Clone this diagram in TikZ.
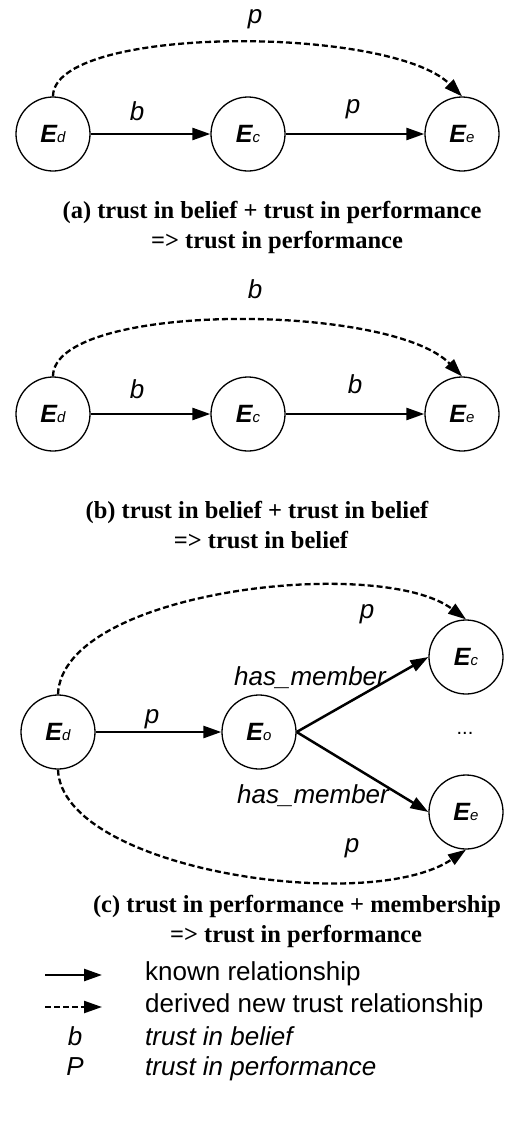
\documentclass[tikz,border=0pt]{standalone}
\usepackage{fontspec}
\setmainfont{Liberation Serif}
\newfontfamily\arial{Liberation Sans}
\usetikzlibrary{arrows.meta}
\tikzset{
  ent/.style={circle, draw, line width=1.3pt, minimum size=74pt, inner sep=0pt, font=\arial\fontsize{25}{25}\selectfont},
  known/.style={line width=2.5pt, -{Triangle[length=18pt,width=12pt]}},
  derived/.style={line width=2.3pt, dash pattern=on 6pt off 3pt, -{Triangle[length=18pt,width=12pt]}},
  elab/.style={font=\arial\itshape\fontsize{26}{26}\selectfont, inner sep=0pt, anchor=base},
  captext/.style={font=\bfseries\fontsize{24.5}{30}\selectfont, inner sep=0pt, anchor=base},
  legtext/.style={font=\arial\fontsize{26}{26}\selectfont, anchor=base west, inner sep=0pt}
}
\newcommand{\ent}[1]{{\bfseries\itshape E}{\fontsize{15}{15}\selectfont\itshape #1}}
\begin{document}
\begin{tikzpicture}[x=1pt,y=-1pt]
\path[use as bounding box] (0,0) rectangle (505,1128);

% (a)
\node[ent] (ad) at (53,134) {\ent{d}};
\node[ent] (ac) at (248,134) {\ent{c}};
\node[ent] (ae) at (462,134) {\ent{e}};
\draw[known] (ad) -- (ac);
\draw[known] (ac) -- (ae);
\draw[derived] (ad.north) .. controls (53,25) and (390,25) .. (ae.north);
\node[elab] (ab) at (137,120) {b};
\node[elab] (ap) at (353,113) {p};
\node[elab] (apt) at (255,23) {p};
\node[captext] (acap1) at (272,218) {(a) trust in belief + trust in performance};
\node[captext] (acap2) at (277,248) {=> trust in performance};

% (b)
\node[ent] (bd) at (53,414) {\ent{d}};
\node[ent] (bc) at (248,414) {\ent{c}};
\node[ent] (be) at (462,414) {\ent{e}};
\draw[known] (bd) -- (bc);
\draw[known] (bc) -- (be);
\draw[derived] (bd.north) .. controls (53,302) and (390,302) .. (be.north);
\node[elab] (bb1) at (137,398) {b};
\node[elab] (bb2) at (355,393) {b};
\node[elab] (bbt) at (255,298) {b};
\node[captext] (bcap1) at (257,518) {(b) trust in belief + trust in belief};
\node[captext] (bcap2) at (261,548) {=> trust in belief};

% (c)
\node[ent] (cd) at (58,732) {\ent{d}};
\node[ent] (co) at (259,732) {\ent{o}};
\node[ent] (cc) at (466,657) {\ent{c}};
\node[ent] (ce) at (466,812) {\ent{e}};
\node[font=\arial\fontsize{20}{20}\selectfont, inner sep=0pt] (cdots) at (465,733) {...};
\draw[known] (cd) -- (co);
\draw[known] (co.east) -- (cc.west);
\draw[known] (co.east) -- (ce.west);
\draw[derived] (cd.north) .. controls (62,590) and (380,555) .. (cc.north);
\draw[derived] (cd.south) .. controls (62,870) and (370,915) .. (ce.south);
\node[elab] (cp) at (152,723) {p};
\node[elab] (chm1) at (310,685) {has\_member};
\node[elab] (chm2) at (313,803) {has\_member};
\node[elab] (cpt) at (367,618) {p};
\node[elab] (cpb) at (352,852) {p};
\node[captext] (ccap1) at (297,912) {(c) trust in performance + membership};
\node[captext] (ccap2) at (296,942) {=> trust in performance};

% legend
\coordinate (l1a) at (45,975);
\coordinate (l1b) at (102,975);
\coordinate (l2a) at (45,1007);
\coordinate (l2b) at (102,1007);
\draw[known] (l1a) -- (l1b);
\draw[derived] (l2a) -- (l2b);
\node[elab] (lb) at (75,1045) {b};
\node[elab] (lp) at (75,1075) {P};
\node[legtext] (lt1) at (145,980) {known relationship};
\node[legtext] (lt2) at (145,1012) {derived new trust relationship};
\node[legtext, font=\arial\itshape\fontsize{26}{26}\selectfont] (lt3) at (145,1045) {trust in belief};
\node[legtext, font=\arial\itshape\fontsize{26}{26}\selectfont] (lt4) at (145,1075) {trust in performance};
\end{tikzpicture}
\end{document}
